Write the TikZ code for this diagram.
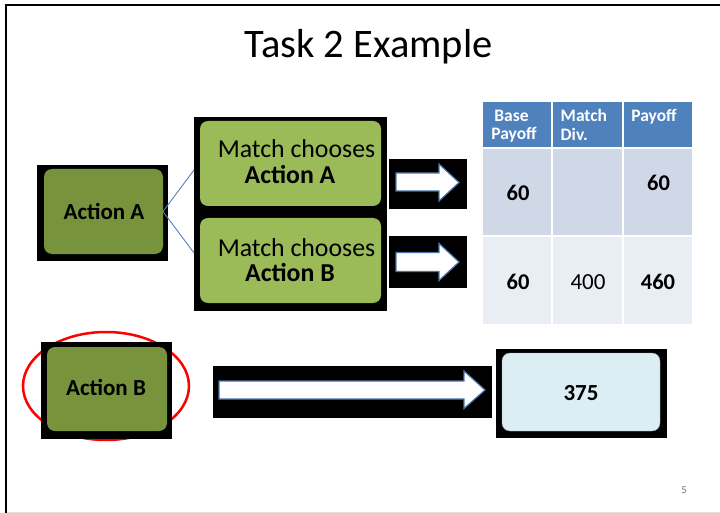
\documentclass[tikz,border=0pt]{standalone}
\usepackage{fontspec}
\setmainfont{Carlito}
\definecolor{oliveA}{HTML}{77933C}
\definecolor{greenB}{HTML}{9BBB59}
\definecolor{hdrblue}{HTML}{4F81BD}
\definecolor{rowone}{HTML}{D0D8E8}
\definecolor{rowtwo}{HTML}{E9EDF4}
\definecolor{paleblue}{HTML}{DBEEF4}
\definecolor{arrowedge}{HTML}{4A74A8}
\begin{document}
\begin{tikzpicture}[x=1pt,y=-1pt,
  panel/.style={rectangle, inner sep=0pt, outer sep=0pt},
  blackbg/.style={panel, fill=black},
  darkbox/.style={panel, fill=oliveA, rounded corners=8pt},
  lightbox/.style={panel, fill=greenB, rounded corners=8pt},
  resultbox/.style={panel, fill=paleblue, draw=paleblue!70!black, line width=0.4pt, rounded corners=8pt},
  blockarrow/.style={fill=white, draw=arrowedge, line width=1.2pt, line join=miter},
  txt/.style={anchor=base, inner sep=0pt},
  bigbold/.style={txt, font=\fontsize{23}{26}\selectfont\bfseries},
  matchtxt/.style={txt, font=\fontsize{25.8}{28}\selectfont},
  matchbold/.style={txt, font=\fontsize{25.8}{28}\selectfont\bfseries},
  hdr/.style={txt, text=white, font=\fontsize{17.5}{19}\selectfont\bfseries},
  num/.style={txt, font=\fontsize{22.5}{24}\selectfont\bfseries},
  numreg/.style={txt, font=\fontsize{23}{25}\selectfont},
  link/.style={draw=hdrblue, line width=0.9pt}
]
\useasboundingbox (0,0) rectangle (720,513);
\fill[white] (0,0) rectangle (720,513);

% slide frame
\draw[line width=2pt] (6,513) -- (6,5) -- (720,5);
\draw[black!12, line width=0.8pt] (7,512) -- (720,512);

% title
\node[txt, font=\fontsize{40.5}{44}\selectfont] (title) at (368.5,58) {Task 2 Example};

% first choice: Action A
\node[blackbg, minimum width=131pt, minimum height=96pt] (aabg) at (102.5,213) {};
\node[darkbox, minimum width=119pt, minimum height=85pt] (aa) at (103.5,211.5) {};
\node[bigbold] (aat) at (104,220) {Action A};

% match outcomes
\node[blackbg, minimum width=193pt, minimum height=194pt] (mc) at (290.5,214) {};
\node[lightbox, minimum width=181pt, minimum height=85pt] (mA) at (290.5,163.5) {};
\node[lightbox, minimum width=181pt, minimum height=85pt] (mB) at (290.5,260.5) {};
\node[matchtxt] (mAt1) at (296.5,158) {Match chooses};
\node[matchbold] (mAt2) at (290,184) {Action A};
\node[matchtxt] (mBt1) at (296.5,256) {Match chooses};
\node[matchbold] (mBt2) at (290,281) {Action B};

% branches
\coordinate (bA) at (194,170);
\coordinate (bB) at (194,253);
\draw[link] (aa.east) -- (bA);
\draw[link] (aa.east) -- (bB);

% small block arrows
\node[blackbg, minimum width=78pt, minimum height=50pt] (ar1) at (428,184) {};
\node[blackbg, minimum width=78pt, minimum height=52pt] (ar2) at (428,262) {};
\draw[blockarrow] (396,173) -- (439,173) -- (439,164) -- (459,182.5) -- (439,201) -- (439,191) -- (396,191) -- cycle;
\draw[blockarrow] (396,252.5) -- (439,252.5) -- (439,243.5) -- (459,262) -- (439,280.5) -- (439,271.5) -- (396,271.5) -- cycle;

% payoff table
\fill[hdrblue] (483,102) rectangle (551,147);
\fill[hdrblue] (553,102) rectangle (622,147);
\fill[hdrblue] (624,102) rectangle (692,147);
\fill[rowone] (483,149) rectangle (551,235);
\fill[rowone] (553,149) rectangle (622,235);
\fill[rowone] (624,149) rectangle (692,235);
\fill[rowtwo] (483,237) rectangle (551,324);
\fill[rowtwo] (553,237) rectangle (622,324);
\fill[rowtwo] (624,237) rectangle (692,324);
\node[hdr] (h1a) at (511.5,122) {Base};
\node[hdr] (h1b) at (514,140) {Payoff};
\node[hdr, anchor=base west] (h2a) at (560.5,122) {Match};
\node[hdr, anchor=base west] (h2b) at (560.5,141) {Div.};
\node[hdr] (h3) at (654,122) {Payoff};
\node[num] (r1c1) at (518,201) {60};
\node[num] (r1c3) at (658.5,191) {60};
\node[num] (r2c1) at (518,289) {60};
\node[numreg] (r2c2) at (588,289) {400};
\node[num] (r2c3) at (658,289) {460};

% second choice: Action B
\draw[red, line width=2.5pt] (106,386) ellipse [x radius=83, y radius=54];
\node[blackbg, minimum width=131pt, minimum height=97pt] (abbg) at (106.5,390.5) {};
\node[darkbox, minimum width=120pt, minimum height=84pt] (ab) at (107,389) {};
\node[bigbold] (abt) at (106,395) {Action B};

% long block arrow
\node[blackbg, minimum width=279pt, minimum height=52pt] (arl) at (352.5,392) {};
\draw[blockarrow] (219,381) -- (464,381) -- (464,371) -- (485,390) -- (464,408.5) -- (464,399) -- (219,399) -- cycle;

% result
\node[blackbg, minimum width=171pt, minimum height=89pt] (resbg) at (581.5,393.5) {};
\node[resultbox, minimum width=158pt, minimum height=78pt] (res) at (581,392) {};
\node[bigbold] (rest) at (581,400) {375};

% slide number
\node[txt, text=black!55, font=\fontsize{10.5}{12}\selectfont] (pg) at (684,493) {5};
\end{tikzpicture}
\end{document}
